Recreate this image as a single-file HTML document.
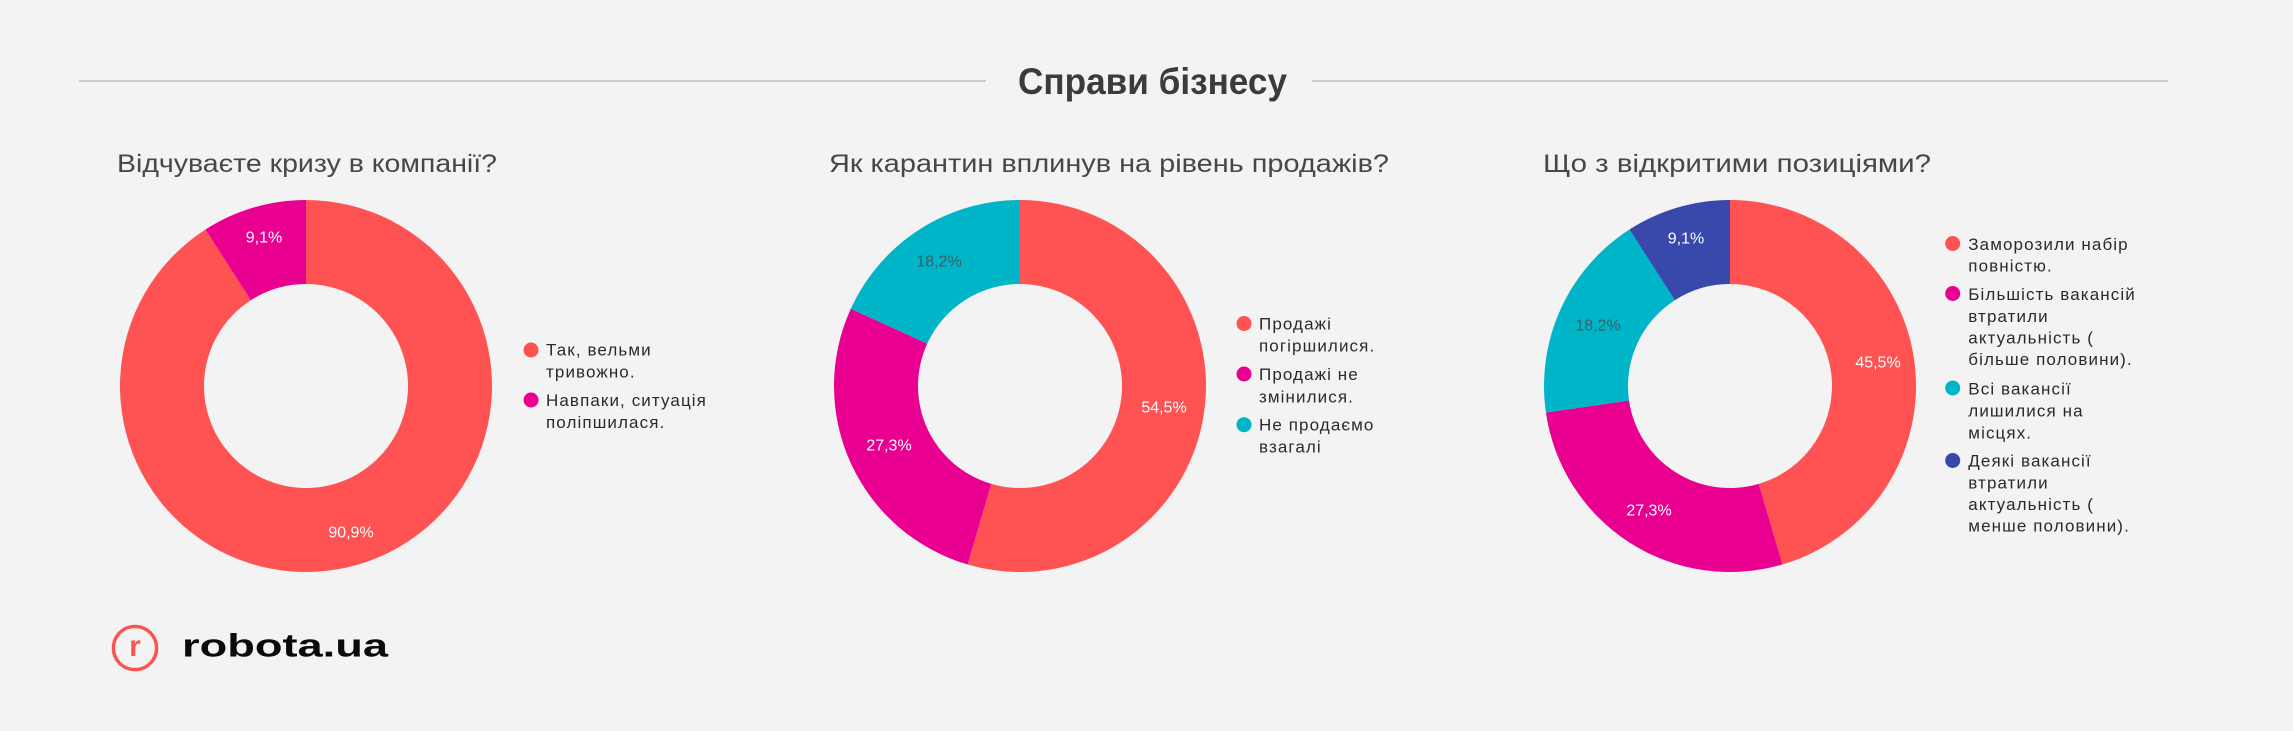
<!DOCTYPE html>
<html>
<head>
<meta charset="utf-8">
<style>
  html,body{margin:0;padding:0;background:#f3f3f3;}
  svg{display:block;}
  .t{font-family:"Liberation Sans","Noto Sans CJK SC",sans-serif;}
  .leg{font-size:17px;fill:#2a2a2a;letter-spacing:1.1px;}
  .ct{font-size:25px;fill:#474747;}
  .lbl{font-size:16px;fill:#ffffff;text-anchor:middle;dominant-baseline:central;}
  .lbld{font-size:16px;fill:#3a6068;text-anchor:middle;dominant-baseline:central;}
</style>
</head>
<body>
<svg width="2293" height="731" viewBox="0 0 2293 731" xmlns="http://www.w3.org/2000/svg">
  <rect x="0" y="0" width="2293" height="731" fill="#f3f3f3"/>

  <!-- header -->
  <line x1="79" y1="81" x2="986" y2="81" stroke="#cccccc" stroke-width="2"/>
  <line x1="1312" y1="81" x2="2168" y2="81" stroke="#cccccc" stroke-width="2"/>
  <text class="t" x="1018" y="94" font-size="37.5" font-weight="bold" fill="#3b3b3b" textLength="269" lengthAdjust="spacingAndGlyphs">Справи бізнесу</text>

  <!-- chart titles -->
  <text class="t ct" x="117" y="172" textLength="380" lengthAdjust="spacingAndGlyphs">Відчуваєте кризу в компанії?</text>
  <text class="t ct" x="829" y="172" textLength="560" lengthAdjust="spacingAndGlyphs">Як карантин вплинув на рівень продажів?</text>
  <text class="t ct" x="1543" y="172" textLength="388" lengthAdjust="spacingAndGlyphs">Що з відкритими позиціями?</text>

  <!-- Donut 1 -->
  <path d="M306,200 A186,186 0 1 1 205.45,229.52 L250.86,300.19 A102,102 0 1 0 306,284 Z" fill="#ff5252"/>
  <path d="M205.45,229.52 A186,186 0 0 1 306,200 L306,284 A102,102 0 0 0 250.86,300.19 Z" fill="#ea0090"/>
  <text class="t lbl" x="264" y="238">9,1%</text>
  <text class="t lbl" x="351" y="533">90,9%</text>

  <!-- Legend 1 -->
  <circle cx="531" cy="350" r="7.5" fill="#ff5252"/>
  <text class="t leg" x="546" y="355.7">Так, вельми</text>
  <text class="t leg" x="546" y="377.7">тривожно.</text>
  <circle cx="531" cy="400" r="7.5" fill="#ea0090"/>
  <text class="t leg" x="546" y="406">Навпаки, ситуація</text>
  <text class="t leg" x="546" y="428">поліпшилася.</text>

  <!-- Donut 2 -->
  <path d="M1020,200 A186,186 0 1 1 967.60,564.47 L991.27,483.87 A102,102 0 1 0 1020,284 Z" fill="#ff5252"/>
  <path d="M967.60,564.47 A186,186 0 0 1 850.81,308.74 L927.22,343.63 A102,102 0 0 0 991.27,483.87 Z" fill="#ea0090"/>
  <path d="M850.81,308.74 A186,186 0 0 1 1020,200 L1020,284 A102,102 0 0 0 927.22,343.63 Z" fill="#00b5c8"/>
  <text class="t lbld" x="939" y="262">18,2%</text>
  <text class="t lbl" x="1164" y="408">54,5%</text>
  <text class="t lbl" x="889" y="446">27,3%</text>

  <!-- Legend 2 -->
  <circle cx="1244" cy="323.5" r="7.5" fill="#ff5252"/>
  <text class="t leg" x="1259" y="329.3">Продажі</text>
  <text class="t leg" x="1259" y="351.7">погіршилися.</text>
  <circle cx="1244" cy="374" r="7.5" fill="#ea0090"/>
  <text class="t leg" x="1259" y="380">Продажі не</text>
  <text class="t leg" x="1259" y="402.3">змінилися.</text>
  <circle cx="1244" cy="424.7" r="7.5" fill="#00b5c8"/>
  <text class="t leg" x="1259" y="430.7">Не продаємо</text>
  <text class="t leg" x="1259" y="452.7">взагалі</text>

  <!-- Donut 3 -->
  <path d="M1730,200 A186,186 0 0 1 1782.40,564.47 L1758.73,483.87 A102,102 0 0 0 1730,284 Z" fill="#ff5252"/>
  <path d="M1782.40,564.47 A186,186 0 0 1 1545.90,412.47 L1629.04,400.51 A102,102 0 0 0 1758.73,483.87 Z" fill="#ea0090"/>
  <path d="M1545.90,412.47 A186,186 0 0 1 1629.45,229.52 L1674.86,300.19 A102,102 0 0 0 1629.04,400.51 Z" fill="#00b5c8"/>
  <path d="M1629.45,229.52 A186,186 0 0 1 1730,200 L1730,284 A102,102 0 0 0 1674.86,300.19 Z" fill="#3949ab"/>
  <text class="t lbl" x="1686" y="239">9,1%</text>
  <text class="t lbld" x="1598" y="326">18,2%</text>
  <text class="t lbl" x="1878" y="363">45,5%</text>
  <text class="t lbl" x="1649" y="511">27,3%</text>

  <!-- Legend 3 -->
  <circle cx="1952.7" cy="243.5" r="7.5" fill="#ff5252"/>
  <text class="t leg" x="1968.3" y="250">Заморозили набір</text>
  <text class="t leg" x="1968.3" y="271.7">повністю.</text>
  <circle cx="1952.7" cy="293.5" r="7.5" fill="#ea0090"/>
  <text class="t leg" x="1968.3" y="300">Більшість вакансій</text>
  <text class="t leg" x="1968.3" y="322">втратили</text>
  <text class="t leg" x="1968.3" y="343.7">актуальність (</text>
  <text class="t leg" x="1968.3" y="365">більше половини).</text>
  <circle cx="1952.7" cy="388" r="7.5" fill="#00b5c8"/>
  <text class="t leg" x="1968.3" y="394.3">Всі вакансії</text>
  <text class="t leg" x="1968.3" y="416.7">лишилися на</text>
  <text class="t leg" x="1968.3" y="438.3">місцях.</text>
  <circle cx="1952.7" cy="460.5" r="7.5" fill="#3949ab"/>
  <text class="t leg" x="1968.3" y="466.7">Деякі вакансії</text>
  <text class="t leg" x="1968.3" y="488.3">втратили</text>
  <text class="t leg" x="1968.3" y="510">актуальність (</text>
  <text class="t leg" x="1968.3" y="531.7">менше половини).</text>

  <!-- Logo -->
  <circle cx="135" cy="648" r="21.6" fill="none" stroke="#ff5252" stroke-width="3.4"/>
  <text class="t" x="135" y="656" font-size="30" font-weight="bold" fill="#ff5252" text-anchor="middle">r</text>
  <text class="t" x="182" y="656.7" font-size="32" font-weight="bold" fill="#0a0a0a" textLength="206" lengthAdjust="spacingAndGlyphs">robota.ua</text>
</svg>
</body>
</html>
